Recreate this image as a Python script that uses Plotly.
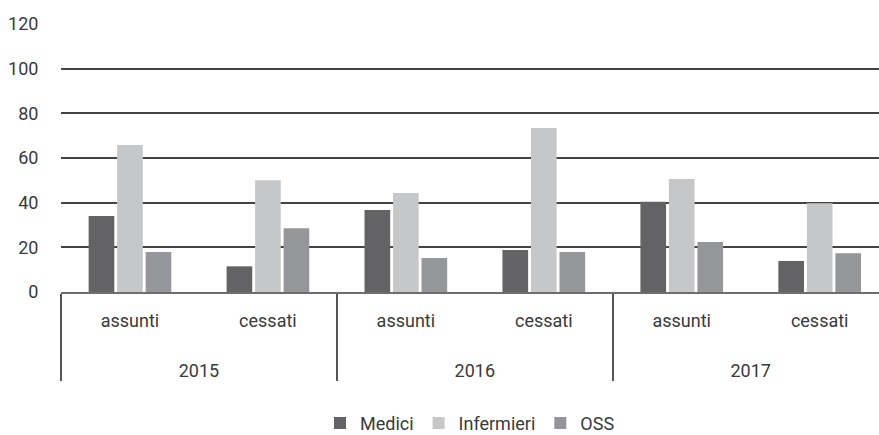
import plotly.graph_objects as go

years = ["2015", "2015", "2016", "2016", "2017", "2017"]
kinds = ["assunti", "cessati", "assunti", "cessati", "assunti", "cessati"]

medici = [34, 11.5, 36.7, 18.8, 40.4, 13.9]
infermieri = [65.8, 50, 44.3, 73.4, 50.6, 39.7]
oss = [17.9, 28.6, 15.2, 17.9, 22.4, 17.4]

series = [("Medici", medici, "#636365"),
          ("Infermieri", infermieri, "#c6c7c9"),
          ("OSS", oss, "#959699")]

FONT = "Roboto, Liberation Sans, sans-serif"
TXT = "#3a3a3a"

# spacing helpers for the two label levels
year_labels = ["<br>" + y for y in years]
kind_labels = [k + "<br><sup>\u00a0</sup>" for k in kinds]

fig = go.Figure()
for name, vals, col in series:
    fig.add_trace(go.Bar(x=[year_labels, kind_labels], y=vals, name=name,
                         marker=dict(color=col, line=dict(width=0))))

fig.update_layout(
    width=879, height=435,
    margin=dict(l=61, r=0, t=24, b=143, autoexpand=False),
    paper_bgcolor="white", plot_bgcolor="white",
    barmode="group", bargap=0.38, bargroupgap=0.1,
    font=dict(family=FONT, size=18, color=TXT),
    legend=dict(orientation="h", x=0.5, xanchor="center", y=-0.49,
                yanchor="middle", font=dict(size=18, color=TXT),
                itemwidth=30, traceorder="normal"),
    showlegend=True,
)
fig.update_xaxes(type="multicategory", range=[-0.5, 5.43], automargin=False,
                 showline=True, linecolor="#6e6e6e", linewidth=1.5,
                 showdividers=True, dividercolor="#555555", dividerwidth=1.5,
                 showgrid=False, ticks="", ticklabelstandoff=12,
                 tickfont=dict(size=18, color=TXT))
fig.update_yaxes(range=[0, 120], dtick=20, showgrid=True, gridcolor="#444444",
                 gridwidth=1.5, zeroline=False, showline=False, automargin=False,
                 ticks="outside", ticklen=18, tickcolor="rgba(0,0,0,0)",
                 tickfont=dict(size=18, color=TXT))

fig.write_html("out.html")
